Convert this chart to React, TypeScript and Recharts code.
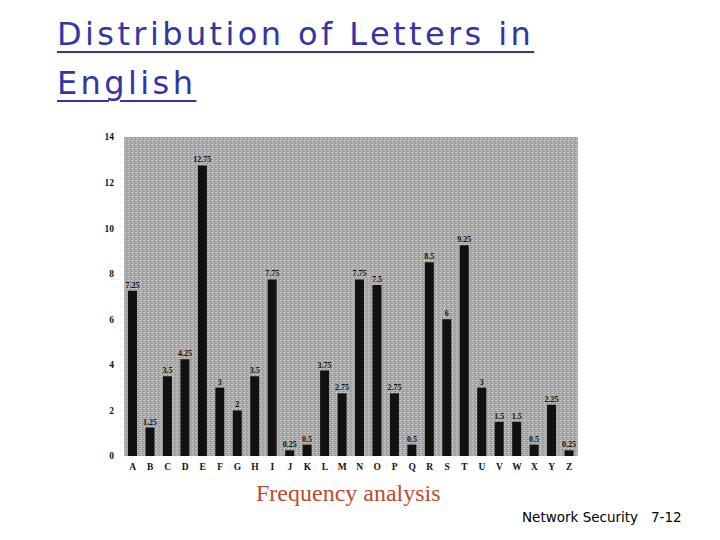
import React from 'react';
import { BarChart, Bar, XAxis, YAxis, CartesianGrid, LabelList } from 'recharts';

const letters = ['A', 'B', 'C', 'D', 'E', 'F', 'G', 'H', 'I', 'J', 'K', 'L', 'M', 'N', 'O', 'P', 'Q', 'R', 'S', 'T', 'U', 'V', 'W', 'X', 'Y', 'Z'];
const frequencies = [7.25, 1.25, 3.5, 4.25, 12.75, 3, 2, 3.5, 7.75, 0.25, 0.5, 3.75, 2.75, 7.75, 7.5, 2.75, 0.5, 8.5, 6, 9.25, 3, 1.5, 1.5, 0.5, 2.25, 0.25];
const yTicks = [0, 2, 4, 6, 8, 10, 12, 14];

const data = letters.map((letter, i) => ({ letter, freq: frequencies[i] }));

const tickStyle = { fontFamily: 'Liberation Serif', fontWeight: 'bold', fontSize: 9.5, fill: '#111' };

const App: React.FC = () => {
  return (
    <div style={{ position: 'absolute', left: 0, top: 0, width: 720, height: 540, background: '#fff', overflow: 'hidden' }}>
      <div
        style={{
          position: 'absolute',
          left: 57,
          top: 10,
          fontFamily: 'DejaVu Sans',
          fontSize: 32,
          letterSpacing: 3.4,
          lineHeight: '49px',
          color: '#3434a8',
          textDecoration: 'underline',
          textDecorationThickness: 2,
          textUnderlineOffset: 6,
        }}
      >
        Distribution of Letters in
        <br />
        English
      </div>

      <BarChart
        width={720}
        height={540}
        data={data}
        margin={{ top: 137, right: 142, bottom: 64, left: 100 }}
        barCategoryGap={0}
        style={{ position: 'absolute', left: 0, top: 0 }}
      >
        <defs>
          <pattern id="dither" width="4" height="4" patternUnits="userSpaceOnUse">
            <rect width="4" height="4" fill="#a9a9a9" />
            <rect x="0" y="0" width="1" height="1" fill="#d4d4d4" />
            <rect x="2" y="1" width="1" height="1" fill="#8a8a8a" />
            <rect x="1" y="2" width="1" height="1" fill="#c8c8c8" />
            <rect x="3" y="3" width="1" height="1" fill="#909090" />
            <rect x="3" y="0" width="1" height="1" fill="#bdbdbd" />
          </pattern>
        </defs>
        <CartesianGrid horizontal={false} vertical={false} fill="url(#dither)" fillOpacity={1} />
        <XAxis dataKey="letter" axisLine={false} tickLine={false} tick={tickStyle} tickMargin={1} height={20} interval={0} />
        <YAxis
          domain={[0, 14]}
          ticks={yTicks}
          axisLine={false}
          tickLine={false}
          tick={tickStyle}
          width={24}
          tickMargin={4}
        />
        <Bar dataKey="freq" fill="#111" barSize={9} isAnimationActive={false}>
          <LabelList
            dataKey="freq"
            position="top"
            offset={3}
            fill="#111"
            fontFamily="Liberation Serif"
            fontWeight="bold"
            fontSize={8}
          />
        </Bar>
      </BarChart>

      <div
        style={{
          position: 'absolute',
          left: 256,
          top: 480,
          fontFamily: 'Liberation Serif',
          fontSize: 24,
          color: '#c04a2c',
        }}
      >
        Frequency analysis
      </div>
      <div
        style={{
          position: 'absolute',
          left: 522,
          top: 509,
          fontFamily: 'DejaVu Sans',
          fontSize: 13.5,
          color: '#000',
          whiteSpace: 'pre',
        }}
      >
        {'Network Security   7-12'}
      </div>
    </div>
  );
};

export default App;
